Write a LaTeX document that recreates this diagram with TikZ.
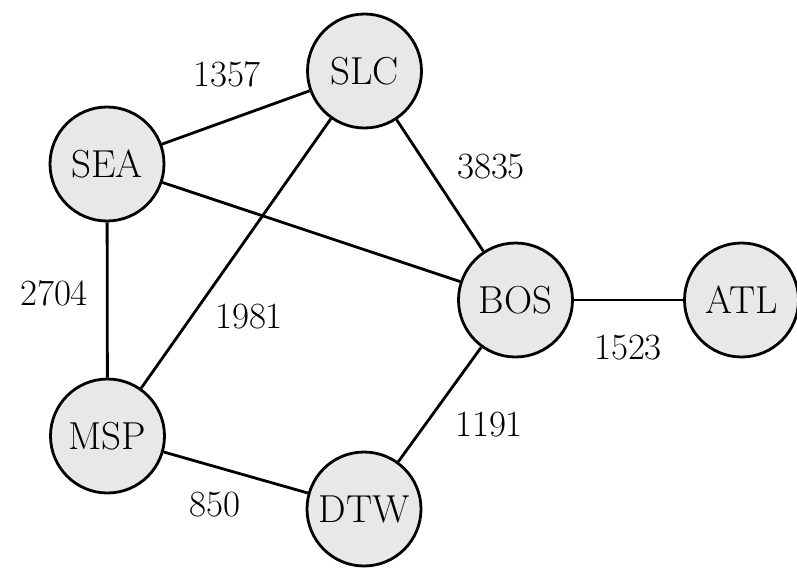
\documentclass[tikz,border=0pt]{standalone}
\definecolor{nodefill}{RGB}{232,232,232}
\tikzset{
  city/.style={circle, draw=black, fill=nodefill, line width=2.8pt, minimum size=114pt, inner sep=0pt, font=\fontsize{39}{42}\selectfont},
  road/.style={line width=2.8pt},
  dist/.style={font=\fontsize{37}{40}\selectfont, inner sep=0pt}
}
\begin{document}
\begin{tikzpicture}[x=1pt,y=-1pt]
\useasboundingbox (0,0) rectangle (797,570);
\node[city] (SLC) at (364.5,71) {SLC};
\node[city] (SEA) at (107,164) {SEA};
\node[city] (BOS) at (515.5,300) {BOS};
\node[city] (ATL) at (741.5,300) {ATL};
\node[city] (MSP) at (107.5,436) {MSP};
\node[city] (DTW) at (364,509) {DTW};
\draw[road] (SEA) -- (SLC);
\draw[road] (SEA) -- (BOS);
\draw[road] (SEA) -- (MSP);
\draw[road] (SLC) -- (MSP);
\draw[road] (SLC) -- (BOS);
\draw[road] (BOS) -- (ATL);
\draw[road] (BOS) -- (DTW);
\draw[road] (MSP) -- (DTW);
\node[dist] (l1) at (227,74) {1357};
\node[dist] (l2) at (491,167) {3835};
\node[dist] (l3) at (54,293.5) {2704};
\node[dist] (l4) at (249,317) {1981};
\node[dist] (l5) at (628,348) {1523};
\node[dist] (l6) at (489,425) {1191};
\node[dist] (l7) at (215,505) {850};
\end{tikzpicture}
\end{document}
